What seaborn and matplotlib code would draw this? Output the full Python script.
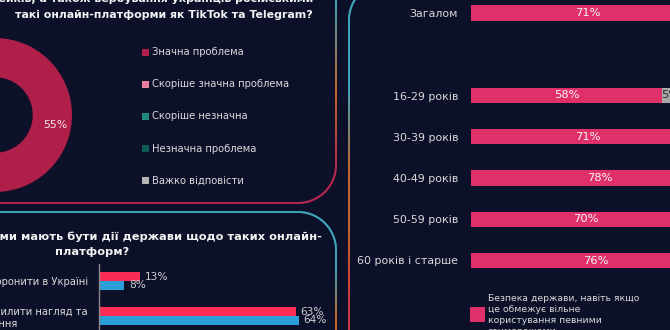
import numpy as np
import pandas as pd
import matplotlib
matplotlib.use("Agg")
import matplotlib.pyplot as plt
import seaborn as sns
from matplotlib.collections import LineCollection
from matplotlib.colors import to_rgb
from matplotlib.patches import Rectangle

# ---------------- data ----------------
problem_labels = ["Значна проблема", "Скоріше значна проблема", "Скоріше незначна",
                  "Незначна проблема", "Важко відповісти"]
problem_values = [55, 22, 9, 6, 8]
problem_colors = ["#b01e4a", "#e8809f", "#1f8c7e", "#0f5c55", "#b5b5b5"]

action_labels = ["Заборонити в Україні",
                 "Не забороняти, але посилити нагляд та\nрегулювання"]
action_wave_a = [13, 63]
action_wave_b = [8, 64]
wave_names = ["Хвиля 1", "Хвиля 2"]

age_groups = ["Загалом", "16-29 років", "30-39 років", "40-49 років",
              "50-59 років", "60 років і старше"]
security_share = [71, 58, 71, 78, 70, 76]
undecided_share = [6, 5, 6, 5, 6, 5]
age_order = ["Загалом", " ", "16-29 років", "30-39 років", "40-49 років",
             "50-59 років", "60 років і старше"]

# ---------------- style ----------------
W, H, DPI = 670, 330, 100
BG = "#0c1129"
PINK = "#e0306a"
GRAY = "#a9a9a9"
RED = "#fb2c56"
BLUE = "#2a9fd9"
TXT = "#d9d9d9"

sns.set_theme(style="white")
plt.rcParams["font.family"] = ["DejaVu Sans"]


def pt(px):
    return px * 72 / DPI


fig = plt.figure(figsize=(W / DPI, H / DPI), dpi=DPI, facecolor=BG)


def px_axes(x0, y0, x1, y1, **kw):
    """Axes placed by pixel box (y measured from the top)."""
    return fig.add_axes([x0 / W, (H - y1) / H, (x1 - x0) / W, (y1 - y0) / H], **kw)


# canvas for frames and free text
bg = px_axes(0, 0, W, H)
bg.set_xlim(0, W)
bg.set_ylim(H, 0)
bg.axis("off")


def gradient_line(xs, ys, ystops, colors, lw=1.4):
    pts = np.column_stack([xs, ys])
    segs = np.stack([pts[:-1], pts[1:]], axis=1)
    ymid = (pts[:-1, 1] + pts[1:, 1]) / 2
    rgb = np.array([to_rgb(c) for c in colors])
    cols = np.column_stack([np.interp(ymid, ystops, rgb[:, i]) for i in range(3)])
    lc = LineCollection(segs, colors=cols, linewidths=lw, capstyle="round")
    bg.add_collection(lc)


def arc(cx, cy, r, t0, t1, n=40):
    t = np.linspace(t0, t1, n)
    return cx + r * np.cos(t), cy + r * np.sin(t)


TEAL = "#3fa3b6"
ORANGE = "#c4672e"
CRIMSON = "#b2264e"
REDB = "#d03a3e"
R = 38

# upper-left frame
ax_, ay_ = arc(336 - R, 165, R, 0, np.pi / 2)
xs_f = np.concatenate([np.full(60, 336), ax_, np.linspace(298, -5, 40)])
ys_f = np.concatenate([np.linspace(-5, 165, 60), ay_, np.full(40, 203)])
gradient_line(xs_f, ys_f, [0, 90, 175, 330], [TEAL, ORANGE, CRIMSON, CRIMSON])

# lower-left frame
ax_, ay_ = arc(336 - R, 212 + R, R, -np.pi / 2, 0)
xs_f = np.concatenate([np.linspace(-5, 298, 40), ax_, np.full(40, 336)])
ys_f = np.concatenate([np.full(40, 212), ay_, np.linspace(250, 335, 40)])
gradient_line(xs_f, ys_f, [0, 270, 318, 330], [TEAL, TEAL, ORANGE, ORANGE])

# right frame
ax_, ay_ = arc(349 + R, 20, R, -np.pi / 2, -np.pi)
xs_f = np.concatenate([np.linspace(430, 387, 10), ax_, np.full(80, 349)])
ys_f = np.concatenate([np.full(10, -18), ay_, np.linspace(20, 335, 80)])
gradient_line(xs_f, ys_f, [0, 90, 170, 230, 300], [TEAL, TEAL, ORANGE, ORANGE, REDB])

# ---------------- donut ----------------
axd = px_axes(-82, 38, 72, 192)
axd.set_facecolor("none")
wedges, _, autotexts = axd.pie(
    problem_values, colors=problem_colors, startangle=90, counterclock=False,
    radius=1, wedgeprops=dict(width=0.51, linewidth=0),
    autopct=lambda p: f"{p:.0f}%", pctdistance=0.79,
    textprops=dict(color="#f2e6ea", fontsize=pt(11)))
axd.set_xlim(-1, 1)
axd.set_ylim(-1, 1)
axd.set_aspect("equal")
axd.axis("off")

# donut legend
for i, (lab, col) in enumerate(zip(problem_labels, problem_colors)):
    y = 52 + i * 32.2
    bg.add_patch(Rectangle((142, y - 3.5), 7, 7, color=col, lw=0))
    bg.text(152, y, lab, ha="left", va="center", color=TXT, fontsize=pt(10))

# upper-left title
bg.text(313, -1, "поширення російських фейків, а також вербування українців російськими",
        ha="right", va="center", color="#f2f2f2", fontweight="bold", fontsize=pt(11))
bg.text(15, 15, "такі онлайн-платформи як TikTok та Telegram?",
        ha="left", va="center", color="#f2f2f2", fontweight="bold", fontsize=pt(11))

# ---------------- actions chart ----------------
bg.text(322, 237, "На Вашу думку, якими мають бути дії держави щодо таких онлайн-",
        ha="right", va="center", color="#f2f2f2", fontweight="bold", fontsize=pt(11.4))
bg.text(92, 252, "платформ?", ha="center", va="center", color="#f2f2f2",
        fontweight="bold", fontsize=pt(11.4))

df_act = pd.DataFrame({
    "action": action_labels * 2,
    "wave": [wave_names[0]] * 2 + [wave_names[1]] * 2,
    "value": action_wave_a + action_wave_b,
})
axb = px_axes(99, 263.5, 99 + 75 * 3.12, 333.5)
axb.set_facecolor("none")
sns.barplot(data=df_act, y="action", x="value", hue="wave", order=action_labels,
            hue_order=wave_names, palette=[RED, BLUE], width=0.51, saturation=1,
            orient="h", legend=False, ax=axb, linewidth=0)
axb.set_xlim(0, 75)
axb.set_ylim(1.5, -0.5)
axb.set_xlabel("")
axb.set_ylabel("")
axb.set_xticks([])
for s in ["top", "right", "bottom"]:
    axb.spines[s].set_visible(False)
axb.spines["left"].set_color("#8a8a8a")
axb.spines["left"].set_linewidth(1)
axb.tick_params(axis="y", length=0, pad=pt(11), labelcolor=TXT, labelsize=pt(10))
for lbl in axb.get_yticklabels():
    lbl.set_multialignment("center")
for cont in axb.containers:
    axb.bar_label(cont, fmt="{:.0f}%", padding=pt(5), color="#cfcfcf", fontsize=pt(10.5))

# ---------------- age chart ----------------
df_age = pd.DataFrame({
    "group": age_groups,
    "security": security_share,
    "undecided": undecided_share,
})
df_age["stack"] = df_age["security"] + df_age["undecided"]

axr = px_axes(470.7, 13 - 0.5 * 41.25, 470.7 + 330, 13 + 6.5 * 41.25)
axr.set_facecolor("none")
sns.barplot(data=df_age, y="group", x="stack", order=age_order, color=GRAY,
            width=0.37, saturation=1, orient="h", ax=axr, linewidth=0)
sns.barplot(data=df_age, y="group", x="security", order=age_order, color=PINK,
            width=0.37, saturation=1, orient="h", ax=axr, linewidth=0)
axr.set_xlim(0, 100)
axr.set_ylim(6.5, -0.5)
axr.set_xlabel("")
axr.set_ylabel("")
axr.set_xticks([])
sns.despine(ax=axr, left=True, bottom=True)
axr.tick_params(axis="y", length=0, pad=pt(12.5), labelcolor=TXT, labelsize=pt(11))
axr.bar_label(axr.containers[1], fmt="{:.0f}%", label_type="center",
              color="#f5f5f5", fontsize=pt(11.5))
for _, row in df_age.iterrows():
    yi = age_order.index(row["group"])
    axr.text(row["security"] + row["undecided"] / 2, yi, f"{row['undecided']}%",
             ha="center", va="center", color="#2a2a2a", fontsize=pt(11.5))

# age chart legend
bg.add_patch(Rectangle((470, 307), 15, 15, color=PINK, lw=0))
bg.text(488, 315, "Безпека держави, навіть якщо\nце обмежує вільне\nкористування певними\nсоцмережами",
        ha="left", va="center", color=TXT, fontsize=pt(9.3), linespacing=1.24)

fig.savefig("out.png", dpi=DPI, facecolor=BG)
